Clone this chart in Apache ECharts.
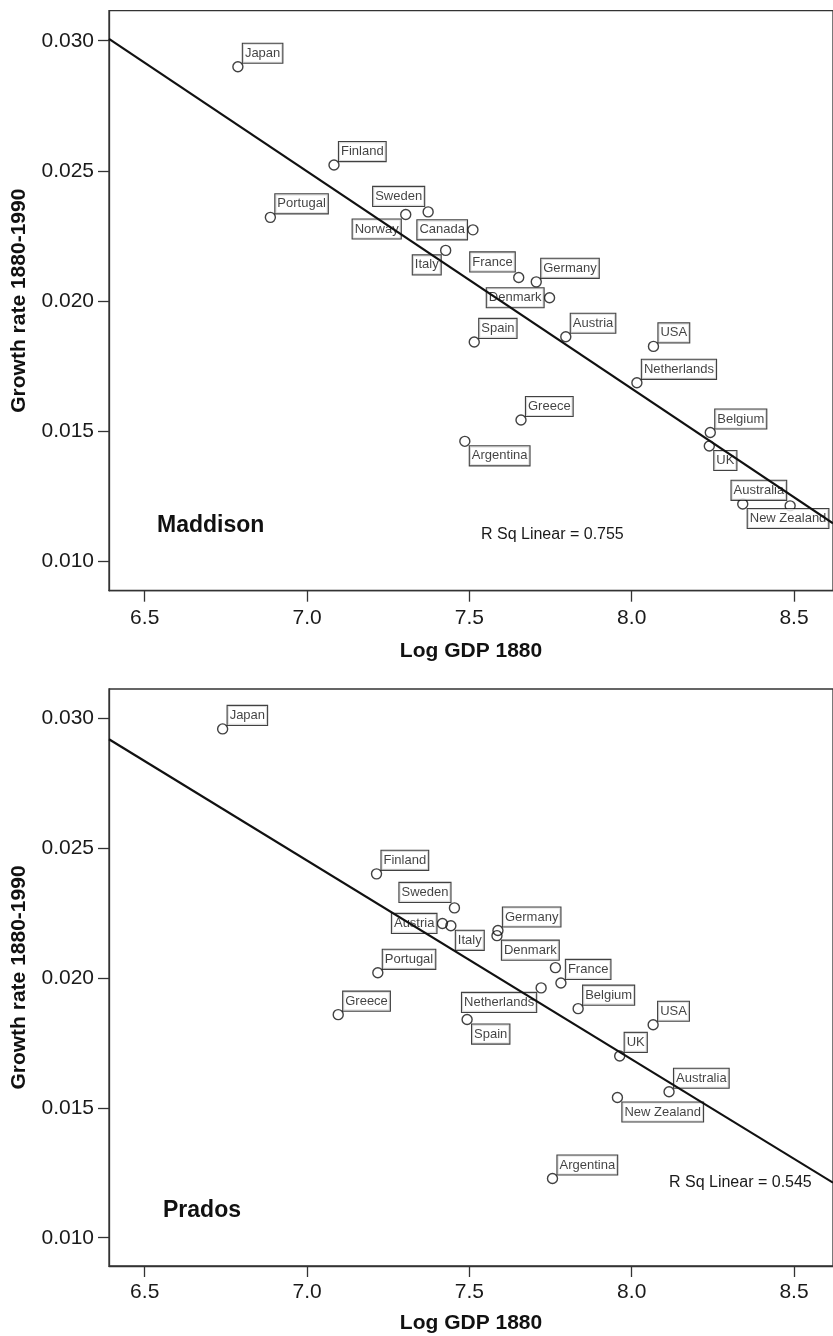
<!DOCTYPE html>
<html>
<head>
<meta charset="utf-8">
<title>Growth rate 1880-1990 vs Log GDP 1880</title>
<script src="https://cdn.jsdelivr.net/npm/echarts@6/dist/echarts.min.js"></script>
<style>
  html, body { margin: 0; padding: 0; background: #fff; }
  #chart { width: 833px; height: 1336px; }
</style>
</head>
<body>
<div id="chart"></div>
<script>
// Maddison panel
const madCountries = ['Japan', 'Finland', 'Portugal', 'Sweden', 'Norway', 'Canada', 'Italy', 'France', 'Germany', 'Denmark',
  'Spain', 'Austria', 'USA', 'Netherlands', 'Greece', 'Argentina', 'Belgium', 'UK', 'Australia', 'New Zealand']
const madLogGdp = [6.787, 7.083, 6.887, 7.373, 7.304, 7.511, 7.427, 7.652, 7.706, 7.747,
  7.515, 7.797, 8.067, 8.016, 7.659, 7.486, 8.242, 8.239, 8.488, 8.342]
const madGrowth = [0.0290, 0.02522, 0.02321, 0.02342, 0.02332, 0.02273, 0.02194, 0.0209, 0.02073, 0.02012,
  0.01842, 0.01862, 0.01825, 0.01685, 0.01542, 0.0146, 0.01494, 0.01442, 0.01212, 0.01219]
const madFitX = [6.39, 8.62]
const madFitY = [0.03007, 0.01145]

// Prados panel (one point has no label)
const pradCountries = ['Japan', 'Finland', 'Sweden', 'Austria', 'Italy', 'Germany', 'Denmark', 'Portugal', 'Greece', '',
  'France', 'Netherlands', 'Belgium', 'Spain', 'USA', 'UK', 'Australia', 'New Zealand', 'Argentina']
const pradLogGdp = [6.740, 7.214, 7.454, 7.417, 7.443, 7.588, 7.585, 7.218, 7.096, 7.765,
  7.782, 7.721, 7.835, 7.493, 8.066, 7.963, 8.115, 7.956, 7.756]
const pradGrowth = [0.02959, 0.02401, 0.0227, 0.0221, 0.02201, 0.02183, 0.02163, 0.0202, 0.01859, 0.0204,
  0.01981, 0.01962, 0.01882, 0.0184, 0.0182, 0.017, 0.01562, 0.0154, 0.01228]
const pradFitX = [6.39, 8.62]
const pradFitY = [0.02919, 0.01212]

const xTicks = [6.5, 7.0, 7.5, 8.0, 8.5]
const yTicks = [0.010, 0.015, 0.020, 0.025, 0.030]

// where each label box sits relative to its circle
const madPlace = {
  Japan: 'ur', Finland: 'ur', Portugal: 'ur', Sweden: 'ul', Norway: 'll', Canada: 'l', Italy: 'll',
  France: 'ul', Germany: 'ur', Denmark: 'l', Spain: 'ur', Austria: 'ur', USA: 'ur', Netherlands: 'ur',
  Greece: 'ur', Argentina: 'lr', Belgium: 'ur', UK: 'lr', Australia: 'ul', 'New Zealand': 'lr'
}
const pradPlace = {
  Japan: 'ur', Finland: 'ur', Sweden: 'ul', Austria: 'l', Italy: 'lr', Germany: 'ur', Denmark: 'lr',
  Portugal: 'ur', Greece: 'ur', France: 'ur', Netherlands: 'll', Belgium: 'ur', Spain: 'lr', USA: 'ur',
  UK: 'ur', Australia: 'ur', 'New Zealand': 'lr', Argentina: 'ur'
}
const corner = {
  ur: { align: 'left', verticalAlign: 'bottom', offset: [5, -4] },
  ul: { align: 'right', verticalAlign: 'bottom', offset: [-4, -6] },
  lr: { align: 'left', verticalAlign: 'top', offset: [5, 5] },
  ll: { align: 'right', verticalAlign: 'top', offset: [-5, 5] },
  l: { align: 'right', verticalAlign: 'middle', offset: [-6, 0] }
}

const FONT = 'Liberation Sans, Arial, Helvetica, sans-serif'
const AXIS_COLOR = '#333'

function points(names, xs, ys, place) {
  return names.map((n, i) => {
    const p = place[n]
    return {
      name: n,
      value: [xs[i], ys[i]],
      label: p ? Object.assign({ show: true }, corner[p]) : { show: false }
    }
  })
}

function xAxis(gridIndex, gap, margin) {
  return {
    gridIndex: gridIndex,
    type: 'value',
    min: 6.39,
    max: 8.62,
    name: 'Log GDP 1880',
    nameLocation: 'middle',
    nameGap: gap,
    nameTextStyle: { fontFamily: FONT, fontSize: 21, fontWeight: 'bold', color: '#111' },
    axisLine: { show: true, lineStyle: { color: AXIS_COLOR, width: 1.3 } },
    axisTick: { show: true, inside: false, length: 11, customValues: xTicks, lineStyle: { color: AXIS_COLOR, width: 1.3 } },
    axisLabel: {
      customValues: xTicks, margin: margin, fontFamily: FONT, fontSize: 21, color: '#1a1a1a',
      formatter: v => v.toFixed(1)
    },
    splitLine: { show: false }
  }
}

function yAxis(gridIndex, min, max) {
  return {
    gridIndex: gridIndex,
    type: 'value',
    min: min,
    max: max,
    name: 'Growth rate 1880-1990',
    nameLocation: 'middle',
    nameRotate: 90,
    nameGap: 79,
    nameTextStyle: { fontFamily: FONT, fontSize: 21, fontWeight: 'bold', color: '#111' },
    axisLine: { show: true, lineStyle: { color: AXIS_COLOR, width: 1.3 } },
    axisTick: { show: true, inside: false, length: 11, customValues: yTicks, lineStyle: { color: AXIS_COLOR, width: 1.3 } },
    axisLabel: {
      customValues: yTicks, margin: 15, fontFamily: FONT, fontSize: 21, color: '#1a1a1a',
      formatter: v => v.toFixed(3)
    },
    splitLine: { show: false }
  }
}

function scatter(idx, data) {
  return {
    type: 'scatter',
    xAxisIndex: idx,
    yAxisIndex: idx,
    z: 2,
    symbol: 'circle',
    symbolSize: 10,
    itemStyle: { color: 'rgba(0,0,0,0)', borderColor: '#111', borderWidth: 1.4 },
    label: {
      position: 'inside',
      formatter: '{b}',
      fontFamily: FONT,
      fontSize: 13,
      lineHeight: 15,
      color: '#111',
      backgroundColor: '#fff',
      borderColor: '#111',
      borderWidth: 1.1,
      padding: [2, 2]
    },
    emphasis: { disabled: true },
    data: data
  }
}

function fitLine(idx, xs, ys) {
  return {
    type: 'line',
    xAxisIndex: idx,
    yAxisIndex: idx,
    z: 3,
    symbol: 'none',
    silent: true,
    lineStyle: { color: '#111', width: 2.2 },
    data: xs.map((x, i) => [x, ys[i]])
  }
}

const chart = echarts.init(document.getElementById('chart'))

chart.setOption({
  animation: false,
  backgroundColor: '#fff',
  grid: [
    { left: 109, top: 10.7, width: 730, height: 580, show: true, borderColor: AXIS_COLOR, borderWidth: 1.3 },
    { left: 109, top: 689, width: 730, height: 577, show: true, borderColor: AXIS_COLOR, borderWidth: 1.3 }
  ],
  xAxis: [xAxis(0, 50, 17), xAxis(1, 47, 16)],
  yAxis: [yAxis(0, 0.008858, 0.031154), yAxis(1, 0.008912, 0.031127)],
  series: [
    scatter(0, points(madCountries, madLogGdp, madGrowth, madPlace)),
    fitLine(0, madFitX, madFitY),
    scatter(1, points(pradCountries, pradLogGdp, pradGrowth, pradPlace)),
    fitLine(1, pradFitX, pradFitY)
  ],
  graphic: [
    { type: 'text', left: 157, top: 514, style: { text: 'Maddison', font: 'bold 23px ' + FONT, fill: '#111' } },
    { type: 'text', left: 481, top: 527, style: { text: 'R Sq Linear = 0.755', font: '16px ' + FONT, fill: '#1a1a1a' } },
    { type: 'text', left: 163, top: 1199, style: { text: 'Prados', font: 'bold 23px ' + FONT, fill: '#111' } },
    { type: 'text', left: 669, top: 1175, style: { text: 'R Sq Linear = 0.545', font: '16px ' + FONT, fill: '#1a1a1a' } }
  ]
})
</script>
</body>
</html>
